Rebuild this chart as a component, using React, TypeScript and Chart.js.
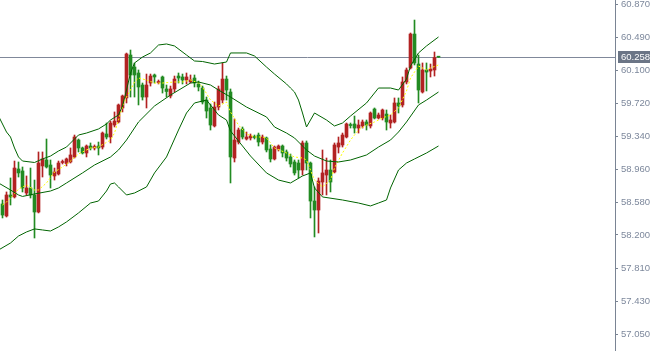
import React, { useEffect, useRef } from "react";
import { Chart, registerables } from "chart.js";

Chart.register(...registerables);

// ---- Price data (candle index 0..109) ----
const openP = [58.559, 58.420, 58.663, 58.640, 58.964, 58.941, 58.686, 58.744, 58.663, 58.466,
  58.999, 59.068, 59.010, 58.883, 58.906, 59.039, 59.027, 59.045, 59.103, 59.299,
  59.207, 59.149, 59.230, 59.207, 59.230, 59.218, 59.369, 59.334, 59.473, 59.508,
  59.670, 59.786, 60.283, 60.144, 60.075, 59.936, 59.797, 59.959, 60.052, 59.965,
  60.029, 59.890, 59.809, 59.890, 60.040, 60.029, 59.994, 59.971, 60.017, 59.948,
  59.901, 59.762, 59.670, 59.462, 59.681, 59.762, 60.005, 59.855, 59.091, 59.276,
  59.427, 59.311, 59.323, 59.340, 59.357, 59.276, 59.323, 59.195, 59.080, 59.195,
  59.230, 59.161, 59.103, 59.045, 59.033, 58.952, 59.265, 59.033, 58.593, 58.489,
  58.813, 58.894, 58.952, 58.929, 59.218, 59.242, 59.334, 59.473, 59.485, 59.438,
  59.462, 59.508, 59.462, 59.658, 59.554, 59.554, 59.600, 59.496, 59.508, 59.728,
  59.705, 59.971, 60.133, 60.526, 60.179, 59.855, 60.110, 60.098, 60.110, 60.262];

const highP = [58.605, 58.698, 58.860, 59.056, 59.045, 58.987, 58.883, 58.975, 58.836, 59.161,
  59.161, 59.311, 59.068, 58.975, 59.056, 59.068, 59.091, 59.207, 59.357, 59.311,
  59.218, 59.242, 59.265, 59.242, 59.276, 59.392, 59.496, 59.519, 59.624, 59.716,
  59.820, 60.306, 60.341, 60.191, 60.110, 59.959, 60.063, 60.063, 60.063, 59.994,
  60.040, 59.936, 59.924, 60.040, 60.075, 60.063, 60.075, 60.052, 60.052, 59.982,
  59.924, 59.797, 59.716, 59.739, 59.924, 60.191, 60.040, 59.890, 59.543, 59.438,
  59.450, 59.392, 59.369, 59.357, 59.380, 59.357, 59.334, 59.242, 59.230, 59.242,
  59.242, 59.184, 59.137, 59.068, 59.068, 59.288, 59.288, 59.045, 58.756, 58.860,
  59.184, 59.091, 59.068, 59.265, 59.334, 59.380, 59.496, 59.496, 59.577, 59.531,
  59.531, 59.531, 59.624, 59.670, 59.612, 59.658, 59.647, 59.589, 59.786, 59.786,
  60.029, 60.133, 60.538, 60.688, 60.283, 60.191, 60.191, 60.179, 60.318, 60.266];

const lowP = [58.397, 58.408, 58.547, 58.628, 58.871, 58.698, 58.663, 58.628, 58.165, 58.455,
  58.871, 58.975, 58.744, 58.836, 58.894, 59.022, 58.999, 59.033, 59.091, 59.161,
  59.137, 59.103, 59.184, 59.184, 59.126, 59.195, 59.311, 59.265, 59.450, 59.496,
  59.624, 59.728, 59.797, 59.797, 59.705, 59.762, 59.670, 59.924, 59.959, 59.948,
  59.843, 59.797, 59.786, 59.855, 59.959, 59.948, 59.948, 59.959, 59.913, 59.867,
  59.716, 59.554, 59.415, 59.450, 59.647, 59.728, 59.762, 58.802, 59.045, 59.253,
  59.311, 59.299, 59.299, 59.311, 59.230, 59.253, 59.161, 59.045, 59.068, 59.172,
  59.103, 59.056, 58.987, 58.894, 58.860, 58.894, 58.952, 58.397, 58.177, 58.223,
  58.663, 58.663, 58.698, 58.918, 59.149, 59.218, 59.323, 59.438, 59.380, 59.380,
  59.438, 59.415, 59.438, 59.543, 59.543, 59.531, 59.415, 59.438, 59.496, 59.612,
  59.681, 59.948, 60.121, 60.168, 59.728, 59.843, 59.867, 60.029, 60.040, 60.256];

const closeP = [58.431, 58.663, 58.640, 58.975, 58.918, 58.744, 58.744, 58.663, 58.466, 59.033,
  59.080, 58.987, 58.894, 58.929, 59.033, 59.045, 59.080, 59.126, 59.334, 59.207,
  59.149, 59.230, 59.207, 59.224, 59.207, 59.380, 59.334, 59.496, 59.519, 59.705,
  59.809, 60.295, 60.052, 60.052, 59.913, 59.797, 59.936, 60.040, 60.029, 59.971,
  59.901, 59.861, 59.890, 60.005, 60.017, 59.994, 60.029, 59.994, 59.959, 59.913,
  59.739, 59.635, 59.473, 59.681, 59.890, 60.005, 59.878, 59.103, 59.299, 59.415,
  59.334, 59.334, 59.346, 59.328, 59.276, 59.334, 59.184, 59.080, 59.218, 59.230,
  59.149, 59.091, 59.022, 58.918, 58.952, 59.265, 59.033, 58.593, 58.489, 58.825,
  58.918, 58.952, 58.813, 59.242, 59.265, 59.357, 59.485, 59.467, 59.438, 59.473,
  59.508, 59.473, 59.612, 59.554, 59.589, 59.647, 59.508, 59.531, 59.728, 59.693,
  59.971, 60.110, 60.526, 60.191, 59.878, 60.110, 60.086, 60.121, 60.254, 60.258];

// ---- Bollinger band lines read at candle indices ----
const upperIdx = [-1, 1, 2, 3, 4, 5, 8, 10, 12, 14, 16, 19, 21, 24, 26, 27, 29, 30, 31, 32, 33, 35, 37, 39, 41, 43, 46, 48, 50, 53, 56, 57, 61, 63, 66, 68, 71, 72, 73, 74, 75, 76, 78, 81, 83, 85, 87, 91, 94, 97, 99, 101, 102, 104, 106, 109];
const upperVal = [59.577, 59.392, 59.334, 59.207, 59.103, 59.056, 59.039, 59.080, 59.114, 59.172, 59.218, 59.357, 59.380, 59.427, 59.485, 59.531, 59.589, 59.693, 59.878, 60.075, 60.191, 60.260, 60.307, 60.399, 60.411, 60.388, 60.283, 60.214, 60.208, 60.179, 60.202, 60.307, 60.307, 60.272, 60.144, 60.063, 59.948, 59.901, 59.855, 59.762, 59.612, 59.450, 59.612, 59.531, 59.462, 59.496, 59.577, 59.728, 59.901, 59.901, 59.878, 60.005, 60.156, 60.307, 60.388, 60.492];

const middleIdx = [-1, 2, 4, 5, 8, 12, 14, 16, 20, 23, 27, 29, 31, 34, 38, 42, 47, 49, 52, 54, 57, 61, 66, 68, 71, 73, 76, 78, 81, 84, 87, 91, 94, 97, 99, 101, 104, 106, 109];
const middleVal = [58.802, 58.721, 58.663, 58.646, 58.675, 58.709, 58.744, 58.802, 58.918, 59.010, 59.103, 59.184, 59.299, 59.508, 59.693, 59.820, 59.959, 59.971, 59.936, 59.878, 59.797, 59.681, 59.566, 59.450, 59.380, 59.323, 59.184, 59.114, 59.056, 59.045, 59.068, 59.126, 59.218, 59.299, 59.392, 59.508, 59.705, 59.762, 59.855];

const lowerIdx = [-1, 2, 4, 6, 8, 10, 12, 14, 16, 19, 22, 24, 26, 27, 28, 29, 31, 33, 36, 38, 41, 44, 46, 48, 51, 53, 54, 56, 57, 60, 62, 66, 69, 72, 75, 77, 78, 80, 85, 89, 92, 94, 96, 97, 99, 101, 103, 106, 109];
const lowerVal = [58.026, 58.107, 58.188, 58.235, 58.270, 58.258, 58.246, 58.293, 58.351, 58.455, 58.570, 58.593, 58.709, 58.790, 58.802, 58.756, 58.663, 58.686, 58.756, 58.918, 59.103, 59.415, 59.612, 59.728, 59.762, 59.647, 59.589, 59.531, 59.404, 59.230, 59.114, 58.918, 58.836, 58.802, 58.883, 58.918, 58.744, 58.640, 58.605, 58.570, 58.536, 58.570, 58.605, 58.744, 58.952, 59.033, 59.080, 59.149, 59.230];

// ---- short moving average (yellow dotted) ----
const maIdx = [0, 1, 3, 4, 6, 8, 9, 11, 13, 15, 17, 19, 22, 24, 27, 28, 29, 30, 31, 32, 33, 34, 36, 38, 40, 43, 45, 47, 49, 50, 52, 54, 56, 57, 59, 61, 63, 65, 66, 68, 71, 73, 75, 76, 77, 78, 80, 82, 83, 85, 87, 89, 91, 93, 95, 97, 99, 101, 102, 104, 106, 107, 109];
const maVal = [58.547, 58.582, 58.675, 58.732, 58.779, 58.721, 58.721, 58.802, 58.929, 58.987, 59.056, 59.137, 59.207, 59.218, 59.299, 59.380, 59.531, 59.681, 59.797, 59.878, 59.971, 60.017, 59.994, 59.959, 59.959, 59.971, 59.971, 59.994, 59.959, 59.913, 59.762, 59.693, 59.739, 59.624, 59.473, 59.369, 59.334, 59.334, 59.323, 59.207, 59.149, 59.103, 59.091, 59.068, 58.952, 58.836, 58.756, 58.836, 58.975, 59.149, 59.299, 59.415, 59.473, 59.508, 59.554, 59.589, 59.670, 59.867, 60.017, 60.156, 60.110, 60.133, 60.168];

// ---- axis ----
const yTickValues = [60.87, 60.49, 60.1, 59.72, 59.34, 58.96, 58.58, 58.2, 57.81, 57.43, 57.05];
const currentPrice = 60.258;
const yMin = 56.857;
const yMax = 60.92;

const RED = "#b22222";
const GREEN = "#228b22";
const BAND = "#006400";
const MA = "#ffff00";
const AXIS = "#7a8494";
const LABEL = "#7d889c";
const FONT = "'Liberation Sans', Arial, sans-serif";
const FONT_SIZE = 9.5;

export default function App() {
  const ref = useRef<HTMLCanvasElement>(null);

  useEffect(() => {
    document.body.style.margin = "0";
    const canvas = ref.current;
    if (!canvas) return;

    const colors = openP.map((o, i) => (closeP[i] > o ? RED : GREEN));
    const wicks = lowP.map((l, i) => ({ x: i, y: [l, highP[i]] }));
    const bodies = openP.map((o, i) => ({ x: i, y: [o, closeP[i]] }));
    const toPts = (xs: number[], ys: number[]) => xs.map((x, i) => ({ x, y: ys[i] }));

    const pricePlugin = {
      id: "pricePlugin",
      beforeDatasetsDraw(chart: any) {
        const { ctx, chartArea, scales } = chart;
        const y = Math.round(scales.y.getPixelForValue(currentPrice)) + 0.5;
        ctx.save();
        ctx.strokeStyle = "#80889a";
        ctx.lineWidth = 1;
        ctx.beginPath();
        ctx.moveTo(chartArea.left, y);
        ctx.lineTo(chartArea.right, y);
        ctx.stroke();
        ctx.restore();
      },
      afterDraw(chart: any) {
        const { ctx, chartArea, scales } = chart;
        const y = Math.round(scales.y.getPixelForValue(currentPrice));
        ctx.save();
        ctx.fillStyle = "#6b7586";
        ctx.fillRect(chartArea.right + 3, y - 6, 35, 12);
        ctx.fillStyle = "#ffffff";
        ctx.font = `${FONT_SIZE}px ${FONT}`;
        ctx.textAlign = "left";
        ctx.textBaseline = "middle";
        ctx.fillText(currentPrice.toFixed(3), chartArea.right + 6, y + 0.5);
        ctx.restore();
      },
    };

    const lineDs = (label: string, xs: number[], ys: number[], color: string, dash?: number[]) => ({
      type: "line" as const,
      label,
      data: toPts(xs, ys),
      borderColor: color,
      borderWidth: 1,
      borderDash: dash || [],
      pointRadius: 0,
      tension: 0,
      fill: false,
      order: 0,
    });

    const chart = new Chart(canvas, {
      type: "bar",
      data: {
        datasets: [
          lineDs("Upper band", upperIdx, upperVal, BAND),
          lineDs("Middle band", middleIdx, middleVal, BAND),
          lineDs("Lower band", lowerIdx, lowerVal, BAND),
          lineDs("MA", maIdx, maVal, MA, [2, 2]),
          {
            type: "bar" as const,
            label: "Wicks",
            data: wicks as any,
            backgroundColor: colors,
            barThickness: 1,
            grouped: false,
            order: 2,
          },
          {
            type: "bar" as const,
            label: "Bodies",
            data: bodies as any,
            backgroundColor: colors,
            barThickness: 3,
            minBarLength: 1,
            grouped: false,
            order: 1,
          },
        ],
      },
      options: {
        responsive: false,
        animation: false,
        devicePixelRatio: 1,
        layout: { padding: 0 },
        plugins: {
          legend: { display: false },
          tooltip: { enabled: false },
        },
        scales: {
          x: {
            type: "linear",
            min: -0.625,
            max: 153.125,
            offset: false,
            display: false,
            grid: { display: false },
          },
          y: {
            type: "linear",
            position: "right",
            min: yMin,
            max: yMax,
            beginAtZero: false,
            afterBuildTicks: (scale: any) => {
              scale.ticks = yTickValues.map((v) => ({ value: v }));
            },
            afterFit: (scale: any) => {
              scale.width = 35;
              scale.paddingTop = 0;
              scale.paddingBottom = 0;
            },
            border: { display: true, color: AXIS, width: 1 },
            grid: {
              display: true,
              drawOnChartArea: false,
              drawTicks: true,
              tickLength: 3,
              color: AXIS,
            },
            ticks: {
              autoSkip: false,
              maxRotation: 0,
              padding: 3,
              color: LABEL,
              font: { family: FONT, size: FONT_SIZE },
              callback: (v: any) => Number(v).toFixed(3),
            },
          },
        },
      },
      plugins: [pricePlugin],
    });

    return () => chart.destroy();
  }, []);

  return (
    <div style={{ width: 650, height: 351, background: "#ffffff" }}>
      <canvas ref={ref} width={650} height={351} style={{ display: "block" }} />
    </div>
  );
}
